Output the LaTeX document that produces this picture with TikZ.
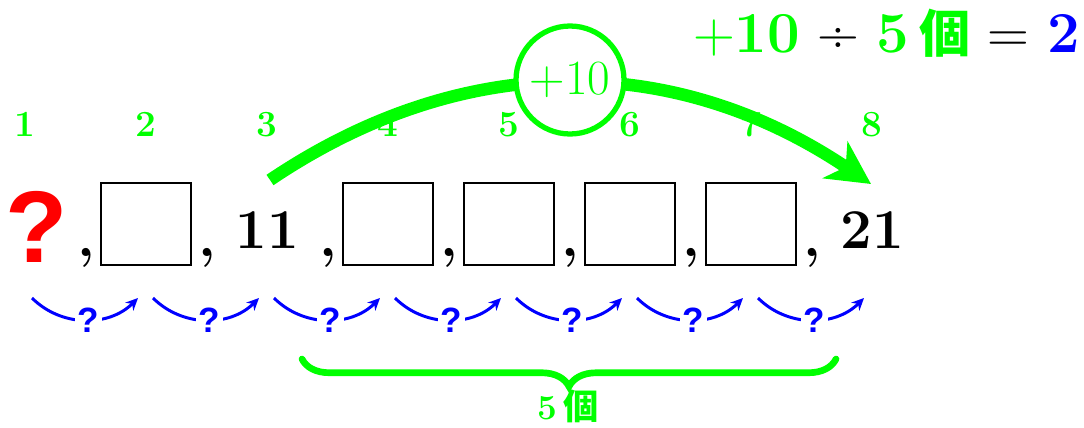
\documentclass[tikz,border=0pt]{standalone}
\usepackage{fontspec}
\usepackage{xcolor}
\usetikzlibrary{positioning,arrows.meta,decorations.pathreplacing}
\newfontfamily\cjkfont{Noto Sans CJK JP}
\newfontfamily\qfont{Liberation Sans}
\definecolor{seqG}{HTML}{00FF00}
\definecolor{seqB}{HTML}{0000FF}
\definecolor{seqR}{HTML}{FF0000}

\begin{document}
\begin{tikzpicture}[
  x=0.02cm, y=0.02cm,
  every node/.style={inner sep=0pt},
  idx/.style={font=\fontsize{21}{25}\selectfont\bfseries, text=seqG, anchor=base},
  num/.style={font=\fontsize{32}{38}\selectfont\bfseries, anchor=base},
  blank/.style={rectangle, draw=black, line width=1.1pt, minimum width=1.8cm, minimum height=1.64cm},
  hop/.style={-{Stealth[length=7pt,width=6.5pt]}, line width=1.7pt, seqB},
  hoplabel/.style={font=\qfont\bfseries\fontsize{20}{24}\selectfont, text=seqB, fill=white, inner sep=1.5pt, pos=0.53},
  bigarc/.style={-{Stealth[length=0.86cm,width=0.88cm,inset=0.25cm]}, line width=0.25cm, seqG},
  ring/.style={circle, draw=seqG, line width=3pt, fill=white, minimum size=2.16cm, text=seqG, font=\fontsize{28}{32}\selectfont},
  span/.style={decorate, decoration={brace, mirror, amplitude=0.55cm}, seqG, line width=3.8pt, line cap=round}
]
  \useasboundingbox (0,0) rectangle (1084,427);

  % position numbers
  \node[idx] (i1) at (25,291)  {1};
  \node[idx] (i2) at (146,291) {2};
  \node[idx] (i3) at (267,291) {3};
  \node[idx] (i4) at (388,291) {4};
  \node[idx] (i5) at (509,291) {5};
  \node[idx] (i6) at (630,291) {6};
  \node[idx] (i7) at (751,291) {7};
  \node[idx] (i8) at (872,291) {8};

  % the sequence
  \node[font=\qfont\bfseries\fontsize{58}{64}\selectfont, text=seqR, anchor=base] (v1) at (37,165) {?};
  \node[blank] (v2) at (146,203) {};
  \node[num]   (v3) at (267,179) {11};
  \node[blank] (v4) at (388,203) {};
  \node[blank] (v5) at (509,203) {};
  \node[blank] (v6) at (630,203) {};
  \node[blank] (v7) at (751,203) {};
  \node[num]   (v8) at (872,179) {21};

  \node[num] (c1) at (86,171)  {,};
  \node[num] (c2) at (207,171) {,};
  \node[num] (c3) at (328,171) {,};
  \node[num] (c4) at (449,171) {,};
  \node[num] (c5) at (570,171) {,};
  \node[num] (c6) at (691,171) {,};
  \node[num] (c7) at (812,171) {,};

  % unknown steps
  \foreach \k/\x in {1/25,2/146,3/267,4/388,5/509,6/630,7/751,8/872}{
    \coordinate (f\k) at (\x+7,129);
    \coordinate (t\k) at (\x-8,129);
  }
  \draw[hop] (f1) to[bend right=45] node[hoplabel] {?} (t2);
  \draw[hop] (f2) to[bend right=45] node[hoplabel] {?} (t3);
  \draw[hop] (f3) to[bend right=45] node[hoplabel] {?} (t4);
  \draw[hop] (f4) to[bend right=45] node[hoplabel] {?} (t5);
  \draw[hop] (f5) to[bend right=45] node[hoplabel] {?} (t6);
  \draw[hop] (f6) to[bend right=45] node[hoplabel] {?} (t7);
  \draw[hop] (f7) to[bend right=45] node[hoplabel] {?} (t8);

  % five steps
  \coordinate (brL) at (302,68);
  \coordinate (brR) at (836,68);
  \draw[span] (brL) -- (brR);
  \node[font=\fontsize{20}{24}\selectfont\bfseries, text=seqG, anchor=base] (count) at (568,8) {5\,{\cjkfont\bfseries 個}};

  % jump from 11 to 21
  \coordinate (arcL) at (270,247);
  \coordinate (arcR) at (871,243);
  \draw[bigarc] (arcL) to[out=34,in=146] (arcR);
  \node[ring] (jump) at (570,347) {+10};

  \node[anchor=base east, font=\fontsize{33}{40}\selectfont] (calc) at (1080,375)
    {\textcolor{seqG}{+\textbf{10}} ÷ \textcolor{seqG}{\textbf{5}\,{\cjkfont\bfseries\fontsize{29}{34}\selectfont 個}} = \textcolor{seqB}{\textbf{2}}};
\end{tikzpicture}
\end{document}
